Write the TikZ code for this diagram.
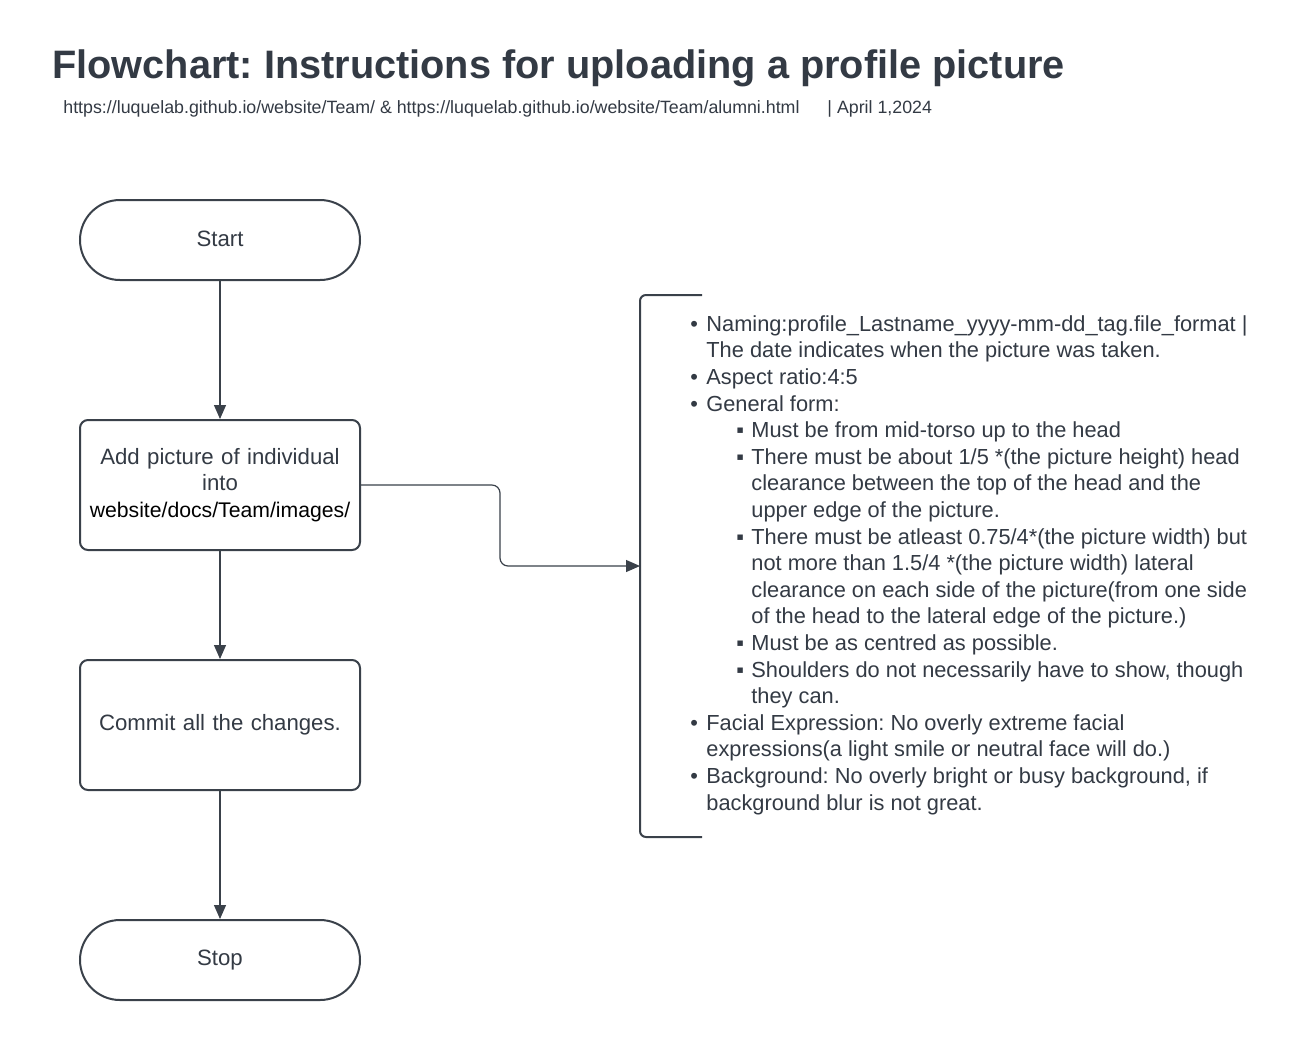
\documentclass[tikz,border=0pt]{standalone}
\usepackage{fontspec}
\setmainfont{Liberation Sans}
\usetikzlibrary{arrows.meta}
\definecolor{linec}{HTML}{3A414A}
\definecolor{textc}{HTML}{333A44}
\newcommand\bl{\makebox[8pt][l]{•}}
\newcommand\bc{\hspace*{8pt}}
\newcommand\sbl{\hspace*{23pt}\makebox[7.5pt][l]{▪}}
\newcommand\sbc{\hspace*{30.5pt}}
\tikzset{
  term/.style={draw=linec, line width=1pt, rounded corners=20pt, minimum width=140pt, minimum height=40pt, text=textc, font=\fontsize{11.1}{13.25}\selectfont},
  proc/.style={draw=linec, line width=1pt, rounded corners=4pt, inner xsep=0pt, text width=140pt, minimum height=65pt, text=textc, align=center, font=\fontsize{11.1}{13.25}\selectfont},
  conn/.style={draw=linec, line width=0.6pt, -{Triangle[length=7pt,width=6pt]}},
  bracketline/.style={draw=linec, line width=1pt, rounded corners=3pt},
}
\begin{document}
\frenchspacing
\begin{tikzpicture}[x=0.5pt,y=-0.5pt]
\useasboundingbox[fill=white] (0,0) rectangle (1300,1040);
\node[anchor=base west, inner sep=0, text=textc, font=\fontsize{19.85}{22}\selectfont\bfseries] (title) at (52,78) {Flowchart: Instructions for uploading a profile picture};
\node[anchor=base west, inner sep=0, text=textc, font=\fontsize{8.9}{10}\selectfont] (sub) at (63,113) {https://luquelab.github.io/website/Team/ \& https://luquelab.github.io/website/Team/alumni.html\hspace{14pt}| April 1,2024};

\node[term] (start) at (220,240) {\raisebox{1.5pt}{Start}};
\node[proc] (add) at (220,485) {Add picture of individual\\into\\\textcolor{black}{\fontsize{10.6}{13.25}\selectfont website/docs/Team/images/}};
\node[proc] (commit) at (220,725) {Commit all the changes.};
\node[term] (stop) at (220,960) {Stop};

\draw[conn] (start.south) -- (add.north);
\draw[conn] (add.south) -- (commit.north);
\draw[conn] (commit.south) -- (stop.north);

\draw[bracketline] (702,295) -- (640,295) -- (640,837) -- (702,837);
\coordinate (brk) at (640,566);
\draw[conn, rounded corners=4pt] (add.east) -- (500,485) -- (500,566) -- (brk);

\node[anchor=north west, inner sep=0, align=left, text=textc, font=\fontsize{10.9}{13.3}\selectfont] (notes) at (690,315) {%
\bl Naming:profile\_Lastname\_yyyy-mm-dd\_tag.file\_format |\\
\bc The date indicates when the picture was taken.\\
\bl Aspect ratio:4:5\\
\bl General form:\\
\sbl Must be from mid-torso up to the head\\
\sbl There must be about 1/5 *(the picture height) head\\
\sbc clearance between the top of the head and the\\
\sbc upper edge of the picture.\\
\sbl There must be atleast 0.75/4*(the picture width) but\\
\sbc not more than 1.5/4 *(the picture width) lateral\\
\sbc clearance on each side of the picture(from one side\\
\sbc of the head to the lateral edge of the picture.)\\
\sbl Must be as centred as possible.\\
\sbl Shoulders do not necessarily have to show, though\\
\sbc they can.\\
\bl Facial Expression: No overly extreme facial\\
\bc expressions(a light smile or neutral face will do.)\\
\bl Background: No overly bright or busy background, if\\
\bc background blur is not great.};
\end{tikzpicture}
\end{document}
